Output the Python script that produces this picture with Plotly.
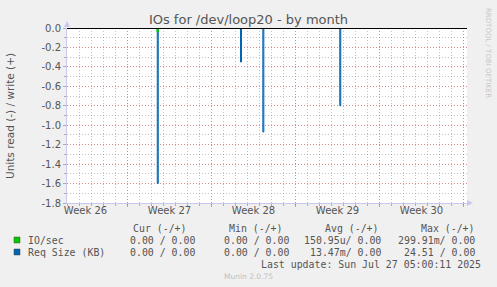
import plotly.graph_objects as go
import pandas as pd

# ---------------- data ----------------
range_start = "2025-06-24 23:00"
range_end = "2025-07-28 07:00"
spike_times = ["2025-07-02 12:30", "2025-07-09 11:00", "2025-07-11 07:40", "2025-07-17 17:30"]
req_size_read = [-1.60, -0.35, -1.07, -0.80]   # Req Size (KB), read side (negative)
io_read = [-0.03, 0.0, 0.0, 0.0]               # IO/sec, read side (negative)
week_mondays = ["2025-06-30", "2025-07-07", "2025-07-14", "2025-07-21", "2025-07-28"]
week_label_pos = ["2025-06-26 12:00", "2025-07-03 12:00", "2025-07-10 12:00",
                  "2025-07-17 12:00", "2025-07-24 12:00"]
week_labels = ["Week 26", "Week 27", "Week 28", "Week 29", "Week 30"]
y_ticks = [0.0, -0.2, -0.4, -0.6, -0.8, -1.0, -1.2, -1.4, -1.6, -1.8]

legend_names = ["IO/sec", "Req Size (KB)"]
legend_colors = ["#00cc00", "#0066b3"]
cur_vals = ["0.00 / 0.00", "0.00 / 0.00"]
min_vals = ["0.00 / 0.00", "0.00 / 0.00"]
avg_vals = ["150.95u/ 0.00", "13.47m/ 0.00"]
max_vals = ["299.91m/ 0.00", "24.51 / 0.00"]
headers = ["Cur (-/+)", "Min (-/+)", "Avg (-/+)", "Max (-/+)"]
last_update = "Last update: Sun Jul 27 05:00:11 2025"

# ---------------- geometry ----------------
W, H = 497, 287
ML, MR, MT, MB = 67, 30, 28, 84
PW, PH = W - ML - MR, H - MT - MB
PBOT = H - MB


def fx(p):
    return (p - ML) / PW


def fy(p):
    return (PBOT - p) / PH


def build(values):
    xs, ys = [], []
    for t, v in zip(spike_times, values):
        if v == 0:
            continue
        t = pd.Timestamp(t)
        a, b = t - pd.Timedelta(hours=1), t + pd.Timedelta(hours=1)
        xs += [a, a, b, b, None]
        ys += [0.0, v, v, 0.0, None]
    return xs, ys


fig = go.Figure()
bx, by = build(req_size_read)
fig.add_trace(go.Scatter(x=bx, y=by, mode="lines", line=dict(color="#0066b3", width=1),
                         fill="toself", fillcolor="rgba(0,102,179,0.45)",
                         showlegend=False, hoverinfo="skip"))
gx, gy = build(io_read)
fig.add_trace(go.Scatter(x=gx, y=gy, mode="lines", line=dict(color="#00cc00", width=1.5),
                         showlegend=False, hoverinfo="skip"))
# dummy trace for label axis
fig.add_trace(go.Scatter(x=week_label_pos, y=[None] * len(week_label_pos), xaxis="x2",
                         mode="lines", showlegend=False, hoverinfo="skip"))

GRID_MINOR = "rgba(150,150,150,0.55)"
GRID_MAJOR = "rgba(230,100,100,0.6)"
AXIS_COL = "#c8c8ee"
TXT = "#555555"

fig.update_layout(
    width=W, height=H,
    margin=dict(l=ML, r=MR, t=MT, b=MB, pad=0),
    paper_bgcolor="#f0f0f0", plot_bgcolor="#ffffff",
    font=dict(family="DejaVu Sans", size=10, color=TXT),
    title=dict(text="IOs for /dev/loop20 - by month", x=0.5, xref="container",
               xanchor="center", y=1 - 19 / H, yref="container", yanchor="middle",
               font=dict(size=13, color=TXT)),
    xaxis=dict(type="date", range=[range_start, range_end],
               tickvals=week_mondays, showticklabels=False,
               ticks="outside", ticklen=3, tickcolor=GRID_MAJOR,
               showgrid=True, gridcolor=GRID_MAJOR, griddash="1px,2px", gridwidth=1,
               minor=dict(dtick=86400000, tick0="2025-06-30", showgrid=True,
                          gridcolor=GRID_MINOR, griddash="1px,2px",
                          ticks="outside", ticklen=2, tickcolor="#aaaaaa"),
               showline=True, linecolor=AXIS_COL, linewidth=1,
               zeroline=False, fixedrange=True),
    xaxis2=dict(type="date", overlaying="x", matches="x", side="bottom",
                tickvals=week_label_pos, ticktext=week_labels,
                showgrid=False, ticks="", showline=False, zeroline=False,
                tickfont=dict(size=10, color=TXT)),
    yaxis=dict(range=[-1.8, 0.0], tickvals=y_ticks,
               ticktext=[f"{v:.1f}" for v in y_ticks],
               ticks="outside", ticklen=3, tickcolor="#aaaaaa",
               showgrid=True, gridcolor=GRID_MAJOR, griddash="1px,2px", gridwidth=1,
               minor=dict(dtick=0.1, tick0=0, showgrid=True, gridcolor=GRID_MINOR,
                          griddash="1px,2px", ticks="outside", ticklen=2,
                          tickcolor="#aaaaaa"),
               showline=True, linecolor=AXIS_COL, linewidth=1,
               zeroline=False, tickfont=dict(size=10, color=TXT), fixedrange=True),
)

shapes = []
# black zero line at top
shapes.append(dict(type="line", xref="paper", yref="paper", x0=0, x1=1,
                   y0=fy(28.5), y1=fy(28.5),
                   line=dict(color="#000000", width=1), layer="above"))
# axis arrows
shapes.append(dict(type="path", xref="paper", yref="paper",
                   path=f"M {fx(64)} {fy(27)} L {fx(70)} {fy(27)} L {fx(67)} {fy(21)} Z",
                   fillcolor=AXIS_COL, line=dict(width=0)))
shapes.append(dict(type="path", xref="paper", yref="paper",
                   path=f"M {fx(467)} {fy(200)} L {fx(467)} {fy(206)} L {fx(473)} {fy(203)} Z",
                   fillcolor=AXIS_COL, line=dict(width=0)))
# legend squares
for i, c in enumerate(legend_colors):
    yc = 240 + 12 * i
    shapes.append(dict(type="rect", xref="paper", yref="paper",
                       x0=fx(14), x1=fx(20), y0=fy(yc - 3), y1=fy(yc + 3),
                       fillcolor=c, line=dict(color="#444444", width=0.5)))
fig.update_layout(shapes=shapes)

MONO = "DejaVu Sans Mono"
ann = []


def add(text, x, y, anchor="left", size=9.9, color=TXT, family=MONO, angle=0):
    ann.append(dict(text=text, x=fx(x), y=fy(y), xref="paper", yref="paper",
                    xanchor=anchor, yanchor="middle", showarrow=False,
                    textangle=angle, font=dict(family=family, size=size, color=color)))


# y-axis title
add("Units read (-) / write (+)", 10, 116, anchor="center", size=10.5,
    family="DejaVu Sans", angle=-90)
# rrdtool credit
add("RRDTOOL / TOBI OETIKER", 488, 53, anchor="center", size=7,
    family="DejaVu Sans", color="#c8c8c8", angle=90)
# headers
hdr_right = [189, 285, 381, 477]
for h, xr in zip(headers, hdr_right):
    add(h, xr, 228, anchor="right")
col_right = [197, 291, 383, 477]
for i, name in enumerate(legend_names):
    yc = 240 + 12 * i
    add(name, 26, yc, anchor="left")
    for vals, xr in zip([cur_vals, min_vals, avg_vals, max_vals], col_right):
        add(vals[i], xr, yc, anchor="right")
add(last_update, 483, 264, anchor="right")
add("Munin 2.0.75", 248, 276, anchor="center", size=7.5, family="DejaVu Sans",
    color="#c0c0c0")
fig.update_layout(annotations=ann)

fig.write_html("out.html")
